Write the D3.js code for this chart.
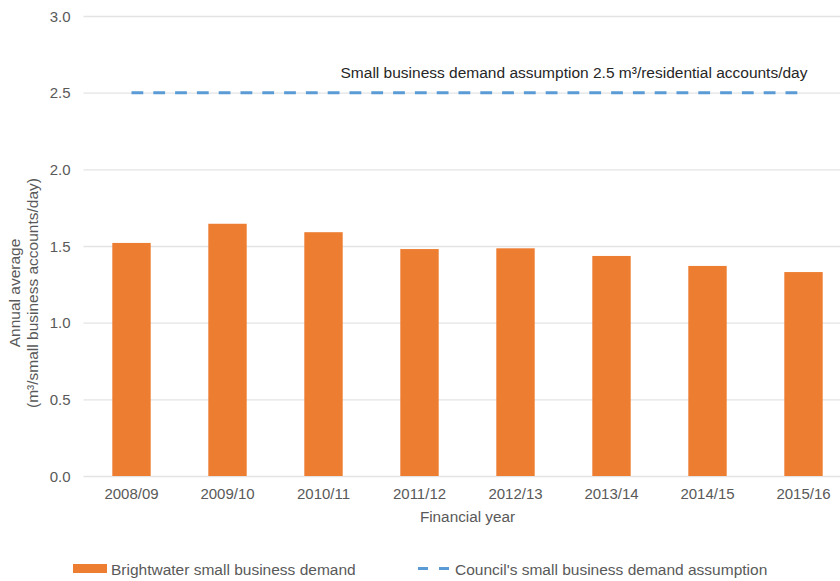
<!DOCTYPE html>
<html>
<head>
<meta charset="utf-8">
<script src="https://cdn.jsdelivr.net/npm/d3@7"></script>
<style>
  html, body { margin: 0; padding: 0; background: #ffffff; }
  svg { display: block; font-family: Arial, "Liberation Sans", sans-serif; }
</style>
</head>
<body>
<svg id="chart" width="840" height="581"></svg>
<script>
// Financial years on the x axis
const years = ["2008/09", "2009/10", "2010/11", "2011/12", "2012/13", "2013/14", "2014/15", "2015/16"];
// Brightwater small business demand (m³/small business accounts/day)
const demand = [1.52, 1.645, 1.59, 1.48, 1.485, 1.435, 1.37, 1.33];
// Council's small business demand assumption
const assumption = [2.5, 2.5, 2.5, 2.5, 2.5, 2.5, 2.5, 2.5];
// y axis ticks
const yTicks = [0, 0.5, 1.0, 1.5, 2.0, 2.5, 3.0];

const seriesNames = ["Brightwater small business demand", "Council's small business demand assumption"];
const noteText = "Small business demand assumption 2.5 m³/residential accounts/day";
const xTitle = "Financial year";
const yTitle = ["Annual average", "(m³/small business accounts/day)"];

const orange = "#ED7D31", blue = "#5B9BD5", grid = "#E4E4E4", txt = "#595959";

const svg = d3.select("#chart");
const plot = { left: 83.5, right: 851.5, top: 16, bottom: 476 };

const x = d3.scaleBand().domain(years).range([plot.left, plot.right])
  .paddingInner(0.6).paddingOuter(0.3);
const y = d3.scaleLinear().domain([0, 3]).range([plot.bottom, plot.top]);

// horizontal gridlines and y labels
const yAxis = d3.axisLeft(y).tickValues(yTicks).tickFormat(d3.format(".1f"))
  .tickSize(-(plot.right - plot.left)).tickPadding(13);
const gy = svg.append("g").attr("transform", `translate(${plot.left},0)`).call(yAxis);
gy.select(".domain").remove();
gy.selectAll(".tick line").attr("stroke", grid).attr("stroke-width", 1.3);
gy.selectAll(".tick text").attr("fill", txt).attr("font-size", 15).attr("dy", "0.35em");

// bars
svg.append("g").selectAll("rect").data(years).join("rect")
  .attr("x", d => x(d))
  .attr("width", x.bandwidth())
  .attr("y", (d, i) => y(demand[i]))
  .attr("height", (d, i) => y(0) - y(demand[i]))
  .attr("fill", orange);

// x labels
const xAxis = d3.axisBottom(x).tickSize(0).tickPadding(12);
const gx = svg.append("g").attr("transform", `translate(0,${plot.bottom})`).call(xAxis);
gx.select(".domain").remove();
gx.selectAll(".tick text").attr("fill", txt).attr("font-size", 15);

// assumption line
const line = d3.line().x((d, i) => x(years[i]) + x.bandwidth() / 2).y(d => y(d));
svg.append("path").datum(assumption)
  .attr("d", line)
  .attr("fill", "none")
  .attr("stroke", blue)
  .attr("stroke-width", 3)
  .attr("stroke-dasharray", "11.8,10");

// note above the line
svg.append("text")
  .attr("x", 574).attr("y", 78)
  .attr("text-anchor", "middle")
  .attr("fill", "#262626")
  .attr("font-size", 15.5)
  .text(noteText);

// axis titles
svg.append("text")
  .attr("x", (plot.left + plot.right) / 2).attr("y", 522)
  .attr("text-anchor", "middle").attr("fill", txt).attr("font-size", 15.3)
  .text(xTitle);

const yt = svg.append("text")
  .attr("transform", "translate(0,293) rotate(-90)")
  .attr("text-anchor", "middle").attr("fill", txt).attr("font-size", 15.5);
yt.append("tspan").attr("x", 0).attr("y", 20).text(yTitle[0]);
yt.append("tspan").attr("x", 0).attr("y", 38).text(yTitle[1]);

// legend
const lg = svg.append("g");
lg.append("rect").attr("x", 73).attr("y", 564).attr("width", 34).attr("height", 9).attr("fill", orange);
lg.append("text").attr("x", 111).attr("y", 575).attr("fill", txt).attr("font-size", 15.5).text(seriesNames[0]);
lg.append("line").attr("x1", 418).attr("x2", 451).attr("y1", 568.5).attr("y2", 568.5)
  .attr("stroke", blue).attr("stroke-width", 3).attr("stroke-dasharray", "10,11");
lg.append("text").attr("x", 455).attr("y", 575).attr("fill", txt).attr("font-size", 15.5).text(seriesNames[1]);
</script>
</body>
</html>
